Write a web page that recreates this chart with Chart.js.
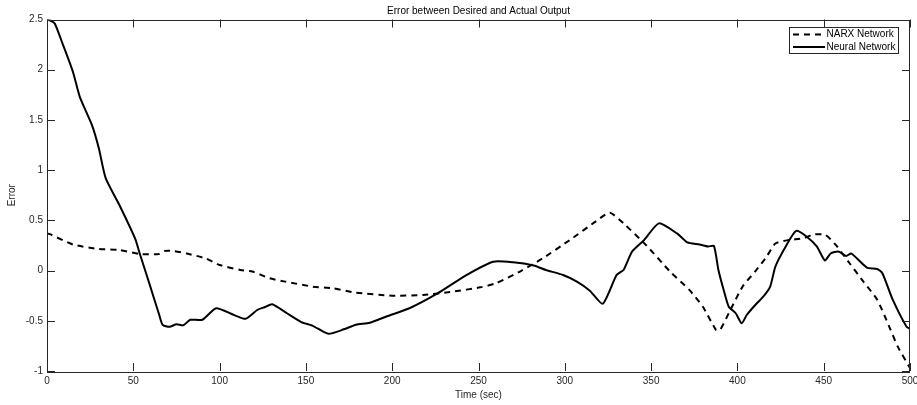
<!DOCTYPE html>
<html>
<head>
<meta charset="utf-8">
<script src="https://cdn.jsdelivr.net/npm/chart.js@4/dist/chart.umd.min.js"></script>
<style>
  html, body { margin: 0; padding: 0; background: #fff; }
  #errChart { display: block; }
</style>
</head>
<body>
<canvas id="errChart" width="917" height="405"></canvas>
<script>
// values
const narxTime = [0, 2, 15, 30, 42, 54, 65, 68, 73, 81, 92, 100, 112, 119, 129, 138, 154, 166, 179, 200, 218, 235, 251, 260, 274, 287, 303, 318, 326, 334, 347, 361, 372, 380, 387.6, 390, 396, 403, 411, 417, 422, 430, 438, 444, 451, 457, 465, 473, 481, 488, 493, 500];
const narxError = [0.37, 0.36, 0.26, 0.215, 0.205, 0.165, 0.165, 0.195, 0.195, 0.17, 0.12, 0.055, 0.006, -0.01, -0.077, -0.11, -0.16, -0.177, -0.22, -0.25, -0.243, -0.21, -0.167, -0.127, -0.01, 0.12, 0.305, 0.49, 0.577, 0.47, 0.255, -0.01, -0.19, -0.36, -0.59, -0.59, -0.39, -0.16, 0.006, 0.14, 0.27, 0.305, 0.32, 0.36, 0.355, 0.255, 0.073, -0.11, -0.29, -0.56, -0.76, -0.97];

const neuralTime = [0, 2, 4.5, 9, 15, 19, 26, 30, 34, 42, 51, 54, 59.5, 65, 67, 71, 75, 79, 83, 90, 98, 108, 115, 122, 126, 130.5, 139, 147, 154, 163, 172, 179, 187, 197, 210, 226, 243, 258.5, 270, 282, 289, 299, 307, 314.5, 322, 330, 334, 339, 346, 354.5, 365, 371, 378, 383, 386.4, 389, 392, 395, 399, 402.5, 405.5, 411, 415, 419, 422, 428, 434, 440, 446, 450.7, 454, 458.5, 463, 466, 475, 481, 484, 490, 498, 500];
const neuralError = [2.5, 2.49, 2.46, 2.26, 1.98, 1.73, 1.45, 1.22, 0.92, 0.65, 0.32, 0.155, -0.14, -0.44, -0.54, -0.56, -0.535, -0.545, -0.49, -0.49, -0.375, -0.44, -0.48, -0.39, -0.365, -0.335, -0.425, -0.51, -0.55, -0.63, -0.585, -0.54, -0.52, -0.455, -0.375, -0.23, -0.045, 0.088, 0.082, 0.05, 0.006, -0.044, -0.11, -0.2, -0.33, -0.044, 0.006, 0.19, 0.305, 0.47, 0.37, 0.28, 0.26, 0.24, 0.245, 0.006, -0.19, -0.36, -0.425, -0.525, -0.44, -0.33, -0.26, -0.16, 0.04, 0.24, 0.395, 0.34, 0.24, 0.1, 0.17, 0.19, 0.145, 0.17, 0.03, 0.016, -0.027, -0.29, -0.56, -0.58];

const seriesNames = ['NARX Network', 'Neural Network'];
const xTicks = [0, 50, 100, 150, 200, 250, 300, 350, 400, 450, 500];
const yTicks = [-1, -0.5, 0, 0.5, 1, 1.5, 2, 2.5];

const FONT = 'Liberation Sans, Arial, Helvetica, sans-serif';
const AXIS_COLOR = '#262626';

function toPoints(xs, ys) {
    return xs.map((t, i) => ({ x: t, y: ys[i] }));
}

// box round the plot and inward ticks on all four sides, plus a boxed legend
const matlabAxes = {
    id: 'matlabAxes',
    afterDraw(chart) {
        const ctx = chart.ctx;
        const a = chart.chartArea;
        const xs = chart.scales.x;
        const ys = chart.scales.y;
        const tick = 8;

        ctx.save();
        ctx.strokeStyle = AXIS_COLOR;
        ctx.lineWidth = 1;
        ctx.setLineDash([]);
        ctx.strokeRect(Math.round(a.left) + 0.5, Math.round(a.top) + 0.5,
            Math.round(a.right - a.left) - 1, Math.round(a.bottom - a.top));

        ctx.beginPath();
        xTicks.forEach(v => {
            const px = Math.round(xs.getPixelForValue(v)) + 0.5;
            ctx.moveTo(px, a.bottom);
            ctx.lineTo(px, a.bottom - tick);
            ctx.moveTo(px, a.top);
            ctx.lineTo(px, a.top + tick);
        });
        yTicks.forEach(v => {
            const py = Math.round(ys.getPixelForValue(v)) + 0.5;
            ctx.moveTo(a.left, py);
            ctx.lineTo(a.left + tick, py);
            ctx.moveTo(a.right, py);
            ctx.lineTo(a.right - tick, py);
        });
        ctx.stroke();

        // legend
        const lx = 789.5, ly = 27.5, lw = 109, lh = 26;
        ctx.fillStyle = '#fff';
        ctx.fillRect(lx, ly, lw, lh);
        ctx.strokeStyle = AXIS_COLOR;
        ctx.strokeRect(lx, ly, lw, lh);

        ctx.font = '10px ' + FONT;
        ctx.textBaseline = 'middle';
        ctx.textAlign = 'left';
        chart.data.datasets.forEach((ds, i) => {
            const yy = 34.5 + i * 12.5;
            ctx.strokeStyle = '#000';
            ctx.lineWidth = 2;
            ctx.setLineDash(ds.borderDash || []);
            ctx.beginPath();
            ctx.moveTo(793, yy);
            ctx.lineTo(825, yy);
            ctx.stroke();
            ctx.setLineDash([]);
            ctx.fillStyle = '#000';
            ctx.fillText(ds.label, 826.5, yy);
        });
        ctx.restore();
    }
};

new Chart(document.getElementById('errChart').getContext('2d'), {
    type: 'line',
    data: {
        datasets: [
            {
                label: seriesNames[0],
                data: toPoints(narxTime, narxError),
                borderColor: '#000',
                borderWidth: 2,
                borderDash: [6, 5],
                pointRadius: 0,
                tension: 0.2,
                fill: false
            },
            {
                label: seriesNames[1],
                data: toPoints(neuralTime, neuralError),
                borderColor: '#000',
                borderWidth: 2,
                pointRadius: 0,
                tension: 0.2,
                fill: false
            }
        ]
    },
    options: {
        responsive: false,
        animation: false,
        devicePixelRatio: 1,
        layout: { padding: { left: 0, right: 7, top: 0, bottom: 0 } },
        plugins: {
            legend: { display: false },
            tooltip: { enabled: false },
            title: {
                display: true,
                text: 'Error between Desired and Actual Output',
                fullSize: false,
                color: '#000',
                font: { family: FONT, size: 10, weight: 'normal' },
                padding: { top: 5, bottom: 2.5 }
            }
        },
        scales: {
            x: {
                type: 'linear',
                min: 0,
                max: 500,
                afterBuildTicks: s => { s.ticks = xTicks.map(v => ({ value: v })); },
                afterFit: s => { s.height = 34; s.paddingLeft = 0; s.paddingRight = 0; },
                grid: { display: false, drawTicks: false },
                border: { display: false },
                ticks: {
                    color: AXIS_COLOR,
                    padding: 4,
                    maxRotation: 0,
                    autoSkip: false,
                    font: { family: FONT, size: 10 }
                },
                title: {
                    display: true,
                    text: 'Time (sec)',
                    color: AXIS_COLOR,
                    font: { family: FONT, size: 10 },
                    padding: { top: 0, bottom: 4 }
                }
            },
            y: {
                type: 'linear',
                min: -1,
                max: 2.5,
                afterBuildTicks: s => { s.ticks = yTicks.map(v => ({ value: v })); },
                afterFit: s => { s.width = 47; s.paddingTop = 0; s.paddingBottom = 0; },
                grid: { display: false, drawTicks: false },
                border: { display: false },
                ticks: {
                    color: AXIS_COLOR,
                    padding: 4,
                    autoSkip: false,
                    font: { family: FONT, size: 10 },
                    callback: v => String(v)
                },
                title: {
                    display: true,
                    text: 'Error',
                    color: AXIS_COLOR,
                    font: { family: FONT, size: 10 },
                    padding: { top: 6, bottom: 0 }
                }
            }
        }
    },
    plugins: [matlabAxes]
});
</script>
</body>
</html>
